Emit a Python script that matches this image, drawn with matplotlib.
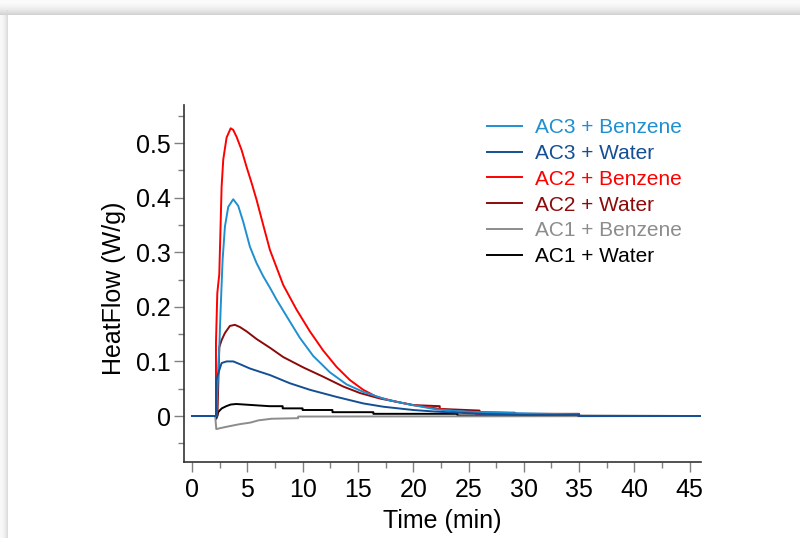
import numpy as np
import matplotlib.pyplot as plt
from matplotlib.ticker import MultipleLocator

plt.rcParams['font.family'] = ['Liberation Sans', 'DejaVu Sans']

# heat flow curves (time in min, heat flow in W/g)
t_ac3_benz = [0, 2.2, 2.3, 2.47, 2.6, 2.77, 2.98, 3.28, 3.73, 4.18, 4.63, 5.24, 5.84,
              6.44, 7.05, 7.65, 8.55, 9.76, 10.96, 12.47, 13.97, 15.5, 17.6, 19.7, 22.1,
              24.0, 26.0, 29.6, 32.0, 35.0, 35.0, 46]
hf_ac3_benz = [0, 0, 0.05, 0.126, 0.2, 0.286, 0.347, 0.383, 0.397, 0.385, 0.356, 0.31,
               0.28, 0.256, 0.235, 0.213, 0.183, 0.143, 0.11, 0.08, 0.058, 0.044, 0.03,
               0.021, 0.012, 0.009, 0.007, 0.005, 0.004, 0.003, 0, 0]

t_ac3_water = [0, 2.17, 2.2, 2.47, 2.68, 3.13, 3.73, 4.33, 5.24, 6.14, 7.05, 8.85,
               10.66, 13.07, 15.5, 17.3, 20.0, 22.1, 26.0, 30.0, 35.0, 35.0, 46]
hf_ac3_water = [0, 0, 0.066, 0.084, 0.097, 0.1, 0.1, 0.095, 0.087, 0.081, 0.075, 0.06,
                0.048, 0.035, 0.023, 0.017, 0.011, 0.008, 0.004, 0.002, 0.002, 0, 0]

t_ac2_benz = [0, 2.17, 2.17, 2.29, 2.47, 2.68, 2.83, 3.13, 3.5, 3.73, 4.04, 4.49, 4.94,
              5.39, 5.84, 6.44, 7.05, 8.25, 9.45, 10.66, 11.86, 13.07, 14.27, 15.48,
              16.7, 18.5, 20.0, 22.1, 24.0, 25.7, 25.7, 34.9, 34.9, 46]
hf_ac2_benz = [0, 0, 0.134, 0.225, 0.26, 0.42, 0.47, 0.51, 0.527, 0.524, 0.511, 0.487,
               0.456, 0.427, 0.396, 0.35, 0.304, 0.24, 0.195, 0.155, 0.12, 0.09, 0.066,
               0.048, 0.035, 0.026, 0.02, 0.014, 0.008, 0.006, 0.003, 0.003, 0, 0]

t_ac2_water = [0, 2.3, 2.47, 2.68, 2.98, 3.43, 3.88, 4.33, 4.94, 5.84, 7.05, 8.25,
               10.06, 11.86, 13.67, 15.2, 17.0, 18.5, 20.0, 22.4, 22.4, 26.0, 26.0, 29.2,
               29.2, 35.0, 35.0, 46]
hf_ac2_water = [0, 0, 0.126, 0.139, 0.152, 0.165, 0.167, 0.163, 0.155, 0.141, 0.125,
                0.108, 0.089, 0.072, 0.054, 0.042, 0.032, 0.026, 0.02, 0.018, 0.013, 0.01,
                0.007, 0.006, 0.004, 0.004, 0, 0]

t_ac1_benz = [0, 2.1, 2.2, 2.6, 3.3, 4.3, 5.3, 6.0, 7.2, 9.6, 9.6, 46]
hf_ac1_benz = [0, 0, -0.024, -0.022, -0.019, -0.015, -0.012, -0.008, -0.005, -0.004,
               -0.001, 0]

t_ac1_water = [0, 2.1, 2.2, 2.4, 2.7, 3.1, 3.5, 4.0, 5.5, 7.0, 8.2, 8.2, 10.0, 10.0,
               12.7, 12.7, 16.4, 16.4, 24.0, 24.0, 46]
hf_ac1_water = [0, 0, -0.005, 0.008, 0.014, 0.018, 0.021, 0.022, 0.02, 0.018, 0.018,
                0.014, 0.014, 0.011, 0.011, 0.007, 0.007, 0.004, 0.004, 0.001, 0]

labels = ['AC3 + Benzene', 'AC3 + Water', 'AC2 + Benzene', 'AC2 + Water',
          'AC1 + Benzene', 'AC1 + Water']
colors = ['#1f8fd0', '#144f94', '#ff0000', '#8b0a0a', '#8c8c8c', '#000000']
series = [(t_ac3_benz, hf_ac3_benz), (t_ac3_water, hf_ac3_water),
          (t_ac2_benz, hf_ac2_benz), (t_ac2_water, hf_ac2_water),
          (t_ac1_benz, hf_ac1_benz), (t_ac1_water, hf_ac1_water)]

fig = plt.figure(figsize=(8, 5.38), dpi=100)

# grey drop-shadow frame around the white panel
H, W = 538, 800
yy, xx = np.mgrid[0:H, 0:W]
top = np.where(yy < 15, 0.98 - 0.18 * (yy / 15.0) ** 2, 1.0)
left = np.where((xx < 8) & (yy >= 10), 0.97 - 0.14 * (xx / 8.0) ** 2, 1.0)
bg = np.minimum(top, left)
ax_bg = fig.add_axes([0, 0, 1, 1], zorder=-1)
ax_bg.imshow(bg, cmap='gray', vmin=0, vmax=1, aspect='auto', interpolation='bilinear')
ax_bg.axis('off')

ax = fig.add_axes([0.23, 0.1413, 0.646, 0.6635])
ax.patch.set_alpha(0)

handles = {}
for i in [5, 4, 3, 2, 0, 1]:
    t, hf = series[i]
    ln, = ax.plot(t, hf, color=colors[i], lw=1.4, label=labels[i])
    handles[i] = ln

ax.set_xlim(-0.72, 46)
ax.set_ylim(-0.0842, 0.5696)
ax.xaxis.set_minor_locator(MultipleLocator(2.5))
ax.yaxis.set_minor_locator(MultipleLocator(0.05))
ax.set_yticks([0, 0.1, 0.2, 0.3, 0.4, 0.5])
ax.set_yticklabels(['0', '0.1', '0.2', '0.3', '0.4', '0.5'])
ax.set_xticks(range(0, 50, 5))
ax.set_xticklabels([str(v) for v in range(0, 50, 5)])

for s in ['top', 'right']:
    ax.spines[s].set_visible(False)
for s in ['left', 'bottom']:
    ax.spines[s].set_color('#333333')
    ax.spines[s].set_linewidth(1.2)

ax.tick_params(which='major', direction='out', length=7.5, width=1.0, color='#808080',
               labelsize=18)
ax.tick_params(axis='y', which='major', pad=2)
ax.tick_params(axis='x', which='major', pad=4)
ax.tick_params(which='minor', direction='out', length=4.3, width=1.0, color='#808080')

ax.set_xlabel('Time (min)', fontsize=18, labelpad=5)
ax.set_ylabel('HeatFlow (W/g)', fontsize=18)
ax.yaxis.set_label_coords(-0.112, 0.486)

leg = ax.legend([handles[i] for i in range(6)], labels, loc='upper left',
                bbox_to_anchor=(487 / 800, 1 - 118 / 538), bbox_transform=fig.transFigure,
                frameon=False, fontsize=15, handlelength=1.68, handletextpad=0.62,
                labelspacing=0.33, borderpad=0, borderaxespad=0)
for txt, ln in zip(leg.get_texts(), leg.get_lines()):
    txt.set_color(ln.get_color())

fig.savefig('out.png', dpi=100)
